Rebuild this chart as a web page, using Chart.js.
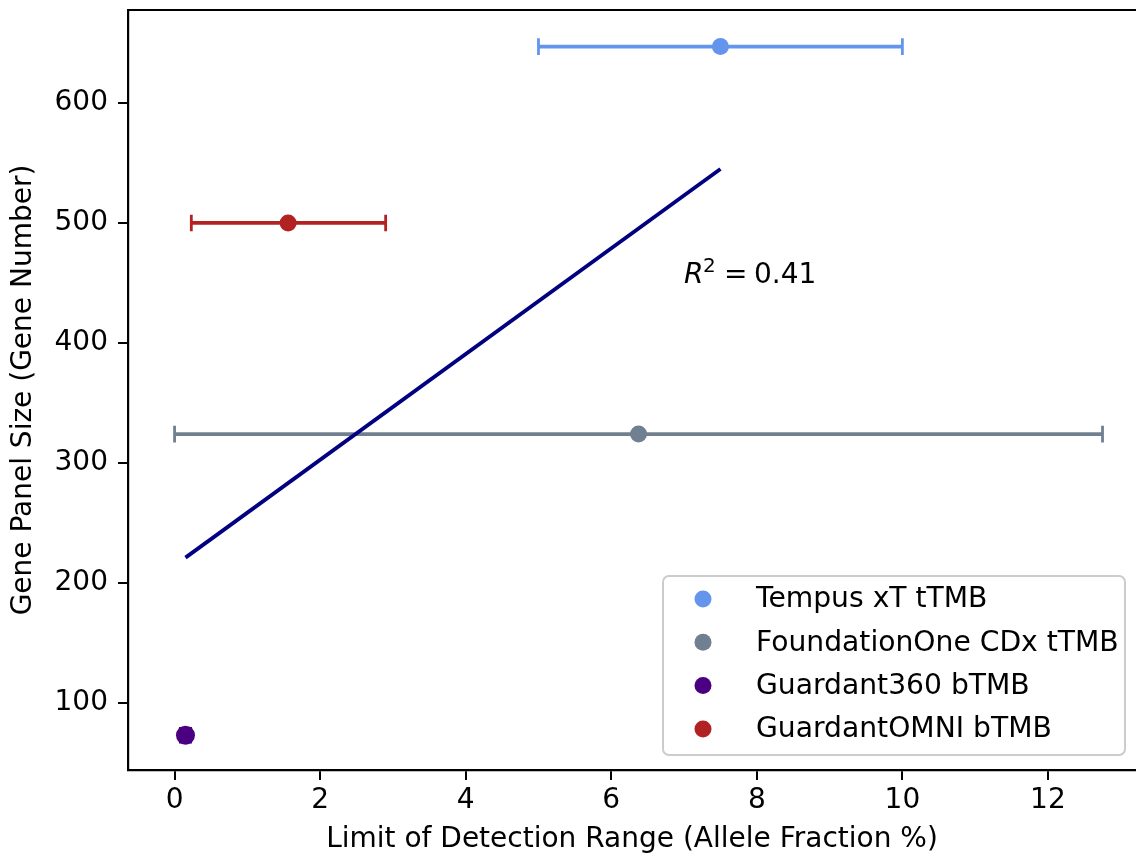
<!DOCTYPE html>
<html>
<head>
<meta charset="utf-8">
<script src="https://cdn.jsdelivr.net/npm/chart.js@4.4.1/dist/chart.umd.min.js"></script>
<style>
	html, body { margin: 0; padding: 0; background: #fff; }
</style>
</head>
<body>
<canvas id="lodChart" width="1136" height="858"></canvas>
<script>
// values
const testNames = ['Tempus xT tTMB', 'FoundationOne CDx tTMB', 'Guardant360 bTMB', 'GuardantOMNI bTMB'];
const testColors = ['#6495ED', '#708090', '#4B0082', '#B22222'];
const lodCenter = [7.5, 6.375, 0.15, 1.56];
const lodLow = [5.0, 0.0, 0.08, 0.23];
const lodHigh = [10.0, 12.75, 0.22, 2.9];
const panelSize = [647, 324, 73, 500];
const fitX = [0.15, 7.5];
const fitY = [221, 545];
const r2Value = '0.41';
const r2Pos = [7.0, 450];

const FONT = '"DejaVu Sans", sans-serif';

const errorBars = {
	id: 'errorBars',
	beforeDatasetsDraw(chart) {
		const { ctx, scales: { x, y } } = chart;
		ctx.save();
		for (let i = 0; i < testNames.length; i++) {
			const py = y.getPixelForValue(panelSize[i]);
			const x0 = x.getPixelForValue(lodLow[i]);
			const x1 = x.getPixelForValue(lodHigh[i]);
			ctx.strokeStyle = testColors[i];
			ctx.lineWidth = 3.8;
			ctx.beginPath();
			ctx.moveTo(x0, py);
			ctx.lineTo(x1, py);
			ctx.stroke();
			ctx.lineWidth = 2.8;
			ctx.beginPath();
			ctx.moveTo(x0, py - 8.3);
			ctx.lineTo(x0, py + 8.3);
			ctx.moveTo(x1, py - 8.3);
			ctx.lineTo(x1, py + 8.3);
			ctx.stroke();
		}
		ctx.restore();
	}
};

const extras = {
	id: 'extras',
	afterDraw(chart) {
		const { ctx, chartArea, scales: { x, y } } = chart;
		ctx.save();
		// top spine
		ctx.strokeStyle = '#000';
		ctx.lineWidth = 2.2;
		ctx.beginPath();
		ctx.moveTo(chartArea.left - 1, chartArea.top);
		ctx.lineTo(chartArea.right, chartArea.top);
		ctx.stroke();

		// R^2 annotation
		const ax = x.getPixelForValue(r2Pos[0]);
		const ay = y.getPixelForValue(r2Pos[1]);
		ctx.fillStyle = '#000';
		ctx.textBaseline = 'alphabetic';
		ctx.textAlign = 'left';
		ctx.font = 'italic 28px ' + FONT;
		ctx.fillText('R', ax, ay);
		ctx.font = '20px ' + FONT;
		ctx.fillText('2', ax + 19, ay - 11);
		ctx.font = '28px ' + FONT;
		ctx.fillText('=', ax + 40, ay);
		ctx.fillText(r2Value, ax + 70, ay);

		// legend
		const boxL = 663, boxT = 576, boxR = 1125, boxB = 755;
		ctx.fillStyle = 'rgba(255,255,255,0.8)';
		ctx.strokeStyle = '#cccccc';
		ctx.lineWidth = 2;
		ctx.beginPath();
		ctx.roundRect(boxL, boxT, boxR - boxL, boxB - boxT, 6);
		ctx.fill();
		ctx.stroke();
		ctx.font = '28.2px ' + FONT;
		ctx.textBaseline = 'middle';
		for (let i = 0; i < testNames.length; i++) {
			const ry = boxT + 23 + i * 43.3;
			ctx.fillStyle = testColors[i];
			ctx.beginPath();
			ctx.arc(boxL + 40, ry, 8.5, 0, Math.PI * 2);
			ctx.fill();
			ctx.fillStyle = '#000';
			ctx.fillText(testNames[i], boxL + 93, ry + 1);
		}
		ctx.restore();
	}
};

const datasets = testNames.map((name, i) => ({
	label: name,
	data: [{ x: lodCenter[i], y: panelSize[i] }],
	backgroundColor: testColors[i],
	borderWidth: 0,
	pointRadius: i === 2 ? 9.5 : 8.5,
	order: 1
}));
datasets.push({
	type: 'line',
	label: 'fit',
	data: fitX.map((v, i) => ({ x: v, y: fitY[i] })),
	borderColor: '#000080',
	borderWidth: 3.8,
	pointRadius: 0,
	fill: false,
	order: 2
});

function noPad(s) {
	s.paddingTop = 0;
	s.paddingBottom = 0;
	s.paddingLeft = 0;
	s.paddingRight = 0;
}

new Chart(document.getElementById('lodChart'), {
	type: 'scatter',
	data: { datasets: datasets },
	options: {
		responsive: false,
		devicePixelRatio: 1,
		animation: false,
		layout: { autoPadding: false, padding: { top: 10, left: 0, right: 0, bottom: 0 } },
		plugins: {
			legend: { display: false },
			tooltip: { enabled: false }
		},
		scales: {
			x: {
				type: 'linear',
				min: -0.64,
				max: 13.21,
				afterFit: s => { s.height = 88; noPad(s); },
				border: { display: true, color: '#000', width: 2.2 },
				grid: { drawOnChartArea: false, drawTicks: true, tickLength: 10, color: '#000', lineWidth: 2 },
				ticks: {
					stepSize: 2,
					includeBounds: false,
					color: '#000',
					padding: 4,
					maxRotation: 0,
					font: { family: FONT, size: 28 }
				},
				title: {
					display: true,
					text: 'Limit of Detection Range (Allele Fraction %)',
					color: '#000',
					font: { family: FONT, size: 28 },
					padding: { top: 0, bottom: 1 }
				}
			},
			y: {
				type: 'linear',
				min: 44,
				max: 677.5,
				afterFit: s => { s.width = 128; noPad(s); },
				border: { display: true, color: '#000', width: 2.2 },
				grid: { drawOnChartArea: false, drawTicks: true, tickLength: 10, color: '#000', lineWidth: 2 },
				ticks: {
					stepSize: 100,
					includeBounds: false,
					color: '#000',
					padding: 10,
					font: { family: FONT, size: 28 }
				},
				title: {
					display: true,
					text: 'Gene Panel Size (Gene Number)',
					color: '#000',
					font: { family: FONT, size: 28 },
					padding: { top: 7, bottom: 0 }
				}
			}
		}
	},
	plugins: [errorBars, extras]
});
</script>
</body>
</html>
